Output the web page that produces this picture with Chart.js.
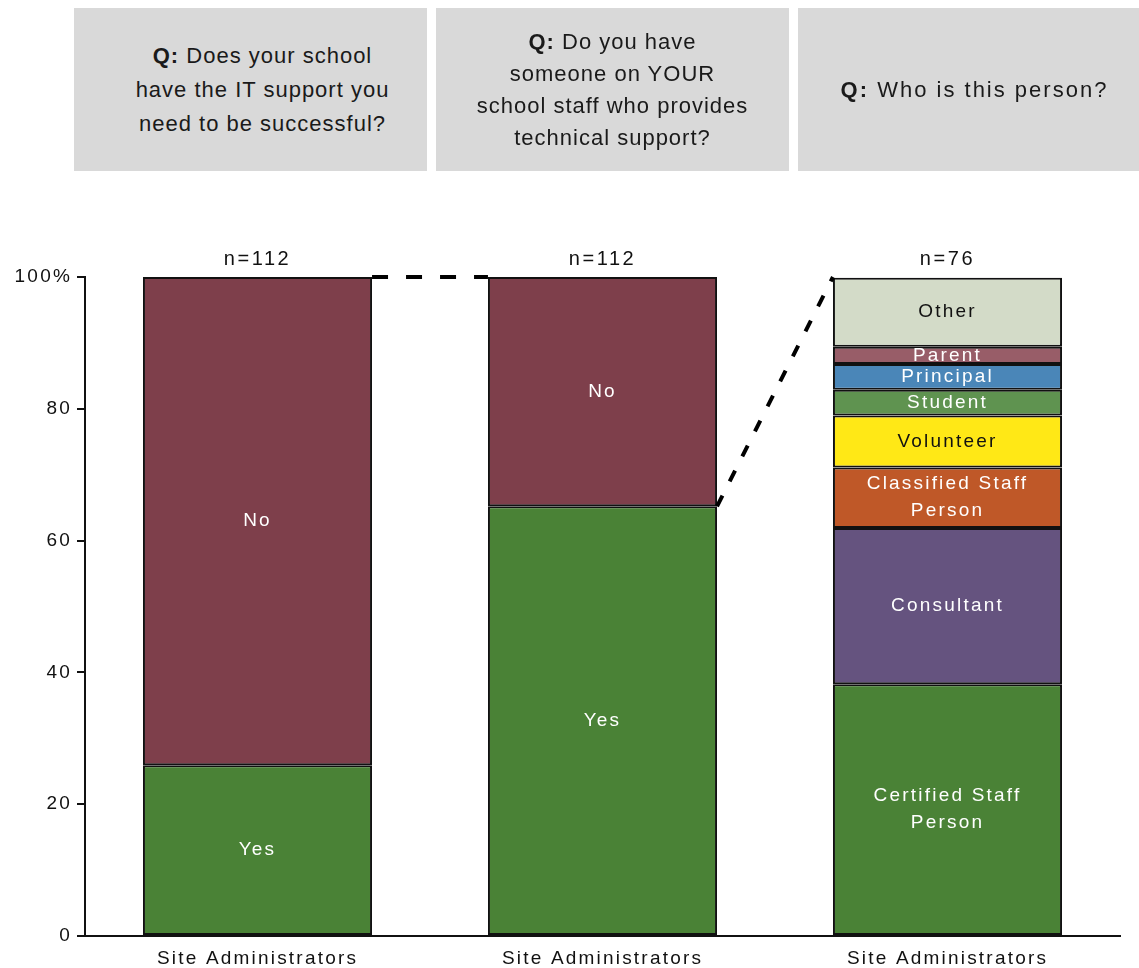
<!DOCTYPE html>
<html>
<head>
<meta charset="utf-8">
<script src="https://cdn.jsdelivr.net/npm/chart.js@4/dist/chart.umd.min.js"></script>
<style>
  body { margin: 0; background: #fff; font-family: Arial, "Liberation Sans", sans-serif; }
  #wrap { position: relative; width: 1139px; height: 968px; }
  #chart { position: absolute; left: 0; top: 0; }
  .qbox { position: absolute; top: 8px; height: 163px; background: #d9d9d9; color: #1a1a1a;
    font-size: 22px; line-height: 32px; text-align: center; display: flex; align-items: center;
    justify-content: center; letter-spacing: 1px; box-sizing: border-box; }
  .qbox b { font-weight: bold; }
</style>
</head>
<body>
<div id="wrap">
  <canvas id="chart" width="1139" height="968"></canvas>
  <div class="qbox" style="left:74px;width:353px;padding-left:24px;line-height:34px;"><div><b>Q:</b> Does your school<br>have the IT support you<br>need to be successful?</div></div>
  <div class="qbox" style="left:436px;width:353px;"><div><b>Q:</b> Do you have<br>someone on YOUR<br>school staff who provides<br>technical support?</div></div>
  <div class="qbox" style="left:798px;width:341px;padding-left:12px;letter-spacing:2px;"><div><b>Q:</b> Who is this person?</div></div>
</div>
<script>
// data (percent of respondents)
var categories = ['Site Administrators', 'Site Administrators', 'Site Administrators'];
var sampleSizes = ['n=112', 'n=112', 'n=76'];
var yesValues = [25.9, 65.2, null];
var noValues = [74.1, 34.8, null];

// who provides support (third bar), bottom to top
var whoLabels = ['Certified Staff\nPerson', 'Consultant', 'Classified Staff\nPerson', 'Volunteer', 'Student', 'Principal', 'Parent', 'Other'];
var whoValues = [38.2, 23.7, 9.2, 7.9, 3.9, 3.9, 2.6, 10.5];
var whoColors = ['#4a8236', '#65537f', '#bf5828', '#ffe816', '#5f9350', '#4a86b8', '#985d68', '#d3dbc8'];
var whoText = ['#fff', '#fff', '#fff', '#111', '#fff', '#fff', '#fff', '#111'];

var yTicks = [0, 20, 40, 60, 80, 100];

var datasets = [
	{label: 'Yes', data: yesValues, backgroundColor: '#4a8236', textColor: '#fff'},
	{label: 'No', data: noValues, backgroundColor: '#7e3f4b', textColor: '#fff'}
];
whoLabels.forEach(function (lab, i) {
	datasets.push({
		label: lab,
		data: [null, null, whoValues[i]],
		backgroundColor: whoColors[i],
		textColor: whoText[i]
	});
});
datasets.forEach(function (d) {
	d.borderColor = '#111';
	d.borderWidth = 2;
	d.borderSkipped = false;
	d.categoryPercentage = 1;
	d.barPercentage = 0.664;
});

var fontFam = 'Arial, "Liberation Sans", sans-serif';

// spaced-out lettering like the original
var spacing = {
	id: 'spacing',
	beforeDraw: function (chart) { chart.ctx.letterSpacing = '2.2px'; }
};

var segmentLabels = {
	id: 'segmentLabels',
	afterDatasetsDraw: function (chart) {
		var ctx = chart.ctx;
		ctx.save();
		ctx.letterSpacing = '2.2px';
		ctx.font = '19px ' + fontFam;
		ctx.textAlign = 'center';
		ctx.textBaseline = 'middle';
		chart.data.datasets.forEach(function (ds, di) {
			var meta = chart.getDatasetMeta(di);
			meta.data.forEach(function (bar, i) {
				if (ds.data[i] == null) return;
				var lines = ds.label.split('\n');
				var cy = (bar.y + bar.base) / 2;
				ctx.fillStyle = ds.textColor;
				lines.forEach(function (ln, k) {
					ctx.fillText(ln, bar.x, cy + (k - (lines.length - 1) / 2) * 27);
				});
			});
		});
		// n= labels above each bar
		var top = chart.scales.y.getPixelForValue(100);
		ctx.font = '20px ' + fontFam;
		ctx.letterSpacing = '2.6px';
		ctx.fillStyle = '#111';
		ctx.textBaseline = 'bottom';
		chart.getDatasetMeta(0).data.forEach(function (bar, i) {
			ctx.fillText(sampleSizes[i], bar.x, top - 8);
		});
		ctx.restore();
	}
};

var connectors = {
	id: 'connectors',
	afterDatasetsDraw: function (chart) {
		var ctx = chart.ctx;
		var y = chart.scales.y;
		var m = chart.getDatasetMeta(0).data;
		var half = m[0].width / 2;
		ctx.save();
		ctx.strokeStyle = '#000';
		ctx.lineWidth = 4;
		ctx.setLineDash([16, 18]);
		ctx.beginPath();
		ctx.moveTo(m[0].x + half, y.getPixelForValue(100));
		ctx.lineTo(m[1].x - half, y.getPixelForValue(100));
		ctx.stroke();
		ctx.setLineDash([12, 16]);
		ctx.beginPath();
		ctx.moveTo(m[1].x + half, y.getPixelForValue(yesValues[1]));
		ctx.lineTo(m[2].x - half, y.getPixelForValue(100));
		ctx.stroke();
		ctx.restore();
	}
};

Chart.defaults.font.family = fontFam;
Chart.defaults.color = '#111';

new Chart(document.getElementById('chart'), {
	type: 'bar',
	data: {labels: categories, datasets: datasets},
	options: {
		responsive: false,
		animation: false,
		layout: {padding: {top: 277, right: 19, bottom: 0, left: 0}},
		plugins: {legend: {display: false}, tooltip: {enabled: false}},
		scales: {
			x: {
				stacked: true,
				grid: {display: false},
				border: {display: true, color: '#111', width: 2},
				ticks: {font: {size: 19}, padding: 3, maxRotation: 0},
				afterFit: function (s) { s.height = 32; }
			},
			y: {
				stacked: true,
				min: 0,
				max: 100,
				afterBuildTicks: function (s) { s.ticks = yTicks.map(function (v) { return {value: v}; }); },
				grid: {drawOnChartArea: false, drawTicks: true, tickLength: 8, color: '#111', lineWidth: 2},
				border: {display: true, color: '#111', width: 2},
				ticks: {
					font: {size: 19},
					padding: 5,
					callback: function (v) { return v === 100 ? '100%' : v; }
				},
				afterFit: function (s) { s.width = 85; }
			}
		}
	},
	plugins: [spacing, segmentLabels, connectors]
});
</script>
</body>
</html>
